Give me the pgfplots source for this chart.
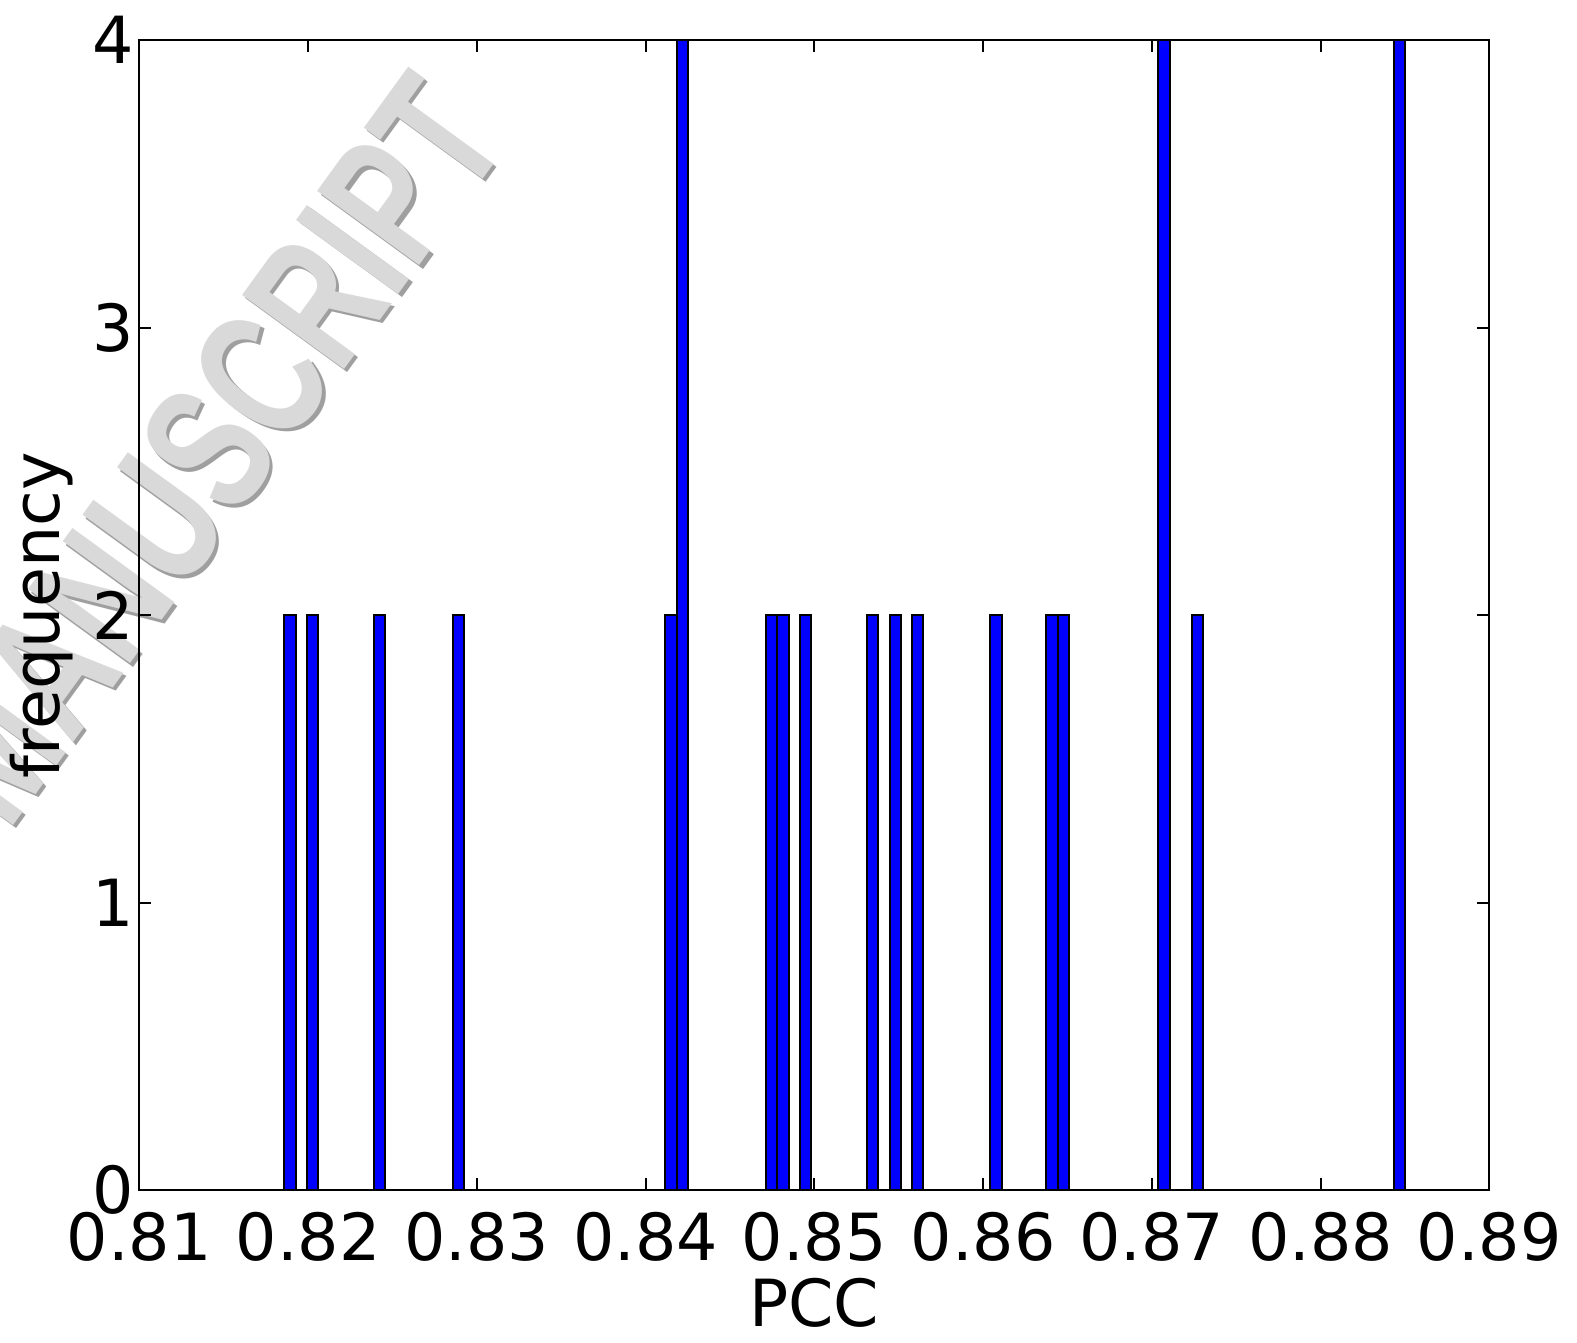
\documentclass[border=0pt]{standalone}
\usepackage{pgfplots}
\pgfplotsset{compat=1.18}
\usepackage{fontspec}
\setmainfont{DejaVu Sans}
\newfontfamily\wmfont{Liberation Sans}
\definecolor{mblue}{RGB}{0,0,255}
\pgfplotstableread{
x y
0.818932 2
0.820260 2
0.824244 2
0.828892 2
0.841508 2
0.842172 4
0.847484 2
0.848148 2
0.849476 2
0.853460 2
0.854788 2
0.856116 2
0.860764 2
0.864084 2
0.864748 2
0.870724 4
0.872716 2
0.884668 4
}\hist
\begin{document}
\begin{tikzpicture}
\path[use as bounding box] (-41.8pt,-45.6pt) rectangle (431.3pt,357pt);
\node[anchor=base east, rotate=54, xscale=0.7, text=gray!75, font=\wmfont\bfseries\fontsize{55}{66}\selectfont] at (114pt,316pt) {MANUSCRIPT};
\node[anchor=base east, rotate=54, xscale=0.7, text=gray!30, font=\wmfont\bfseries\fontsize{55}{66}\selectfont] at (113pt,317pt) {MANUSCRIPT};
\begin{axis}[
  at={(0pt,0pt)}, anchor=south west,
  scale only axis, width=405pt, height=345pt,
  xmin=0.81, xmax=0.89, ymin=0, ymax=4,
  xtick={0.81,0.82,0.83,0.84,0.85,0.86,0.87,0.88,0.89},
  ytick={0,1,2,3,4},
  /pgf/number format/assume math mode=true,
  xticklabel style={/pgf/number format/fixed, /pgf/number format/fixed zerofill, /pgf/number format/precision=2, inner sep=0pt, yshift=-6.6pt},
  yticklabel style={inner sep=0pt, xshift=-1.3pt},
  tick label style={font=\fontsize{19.5}{23}\selectfont},
  label style={font=\fontsize{19.5}{23}\selectfont},
  tick align=inside, major tick length=3.6pt,
  tick style={black, line width=0.6pt},
  axis line style={black, line width=0.6pt},
  xlabel={PCC}, ylabel={frequency},
  xlabel style={at={(axis description cs:0.5,0)}, anchor=base, yshift=-41pt},
  ylabel style={at={(axis description cs:0,0.5)}, anchor=base, yshift=23.8pt},
  clip=false,
]
\addplot[ybar, bar width=0.000664, bar shift=0pt, fill=mblue, draw=black, line width=0.6pt] table[x=x, y=y] {\hist};
\end{axis}
\end{tikzpicture}
\end{document}
